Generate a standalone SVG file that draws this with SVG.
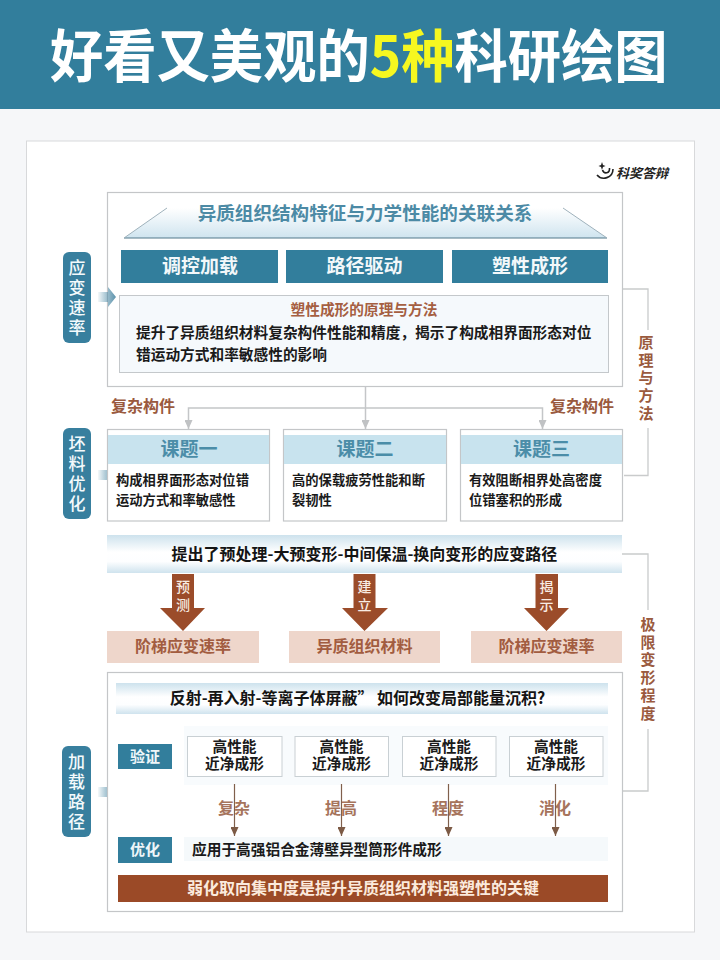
<svg xmlns="http://www.w3.org/2000/svg" width="720" height="960" viewBox="0 0 720 960">
<style>
text{font-family:"Noto Sans CJK SC","Noto Sans",sans-serif;text-anchor:middle;font-weight:700}
.l{text-anchor:start}
.v{writing-mode:vertical-rl}
.box{fill:#fff;stroke:#c4c6c8;stroke-width:1.2}
.side{fill:#387f9e}
.sidet{fill:#f4fafc;font-size:17px;font-weight:500;letter-spacing:3px}
.btn{fill:#327e9c}
.btnt{fill:#f3f8fa;font-size:19px}
.body{fill:#1a1a1a;font-size:14.7px}
.body13{fill:#1a1a1a;font-size:13.3px}
.kt{fill:#4b8da8;font-size:19px}
.hd{fill:#c8e3ee}
.brown{fill:#9a5a3e;font-size:16px}
.vert{fill:#9a5a3e;font-size:15px;letter-spacing:2.700px}
.ln{fill:none;stroke:#c9cbcc;stroke-width:1.3}
.ga{fill:none;stroke:#c4c6c8;stroke-width:1.5;marker-end:url(#ga)}
.ba{fill:none;stroke:#80604c;stroke-width:1.2;marker-end:url(#ba)}
.big{fill:#9b4c2a}
.bigt{fill:#f8ece3;font-size:14px;font-weight:500;letter-spacing:4px}
.pink{fill:#eed6cb}
.pinkt{fill:#a25c40;font-size:16px}
.bart{fill:#141414;font-size:16px}
.small{fill:#fff;stroke:#c9d0d4;stroke-width:1}
.lab{fill:#a6745c;font-size:16px}
</style>
<defs>
<linearGradient id="tr" x1="0" y1="0" x2="0" y2="1"><stop offset="0" stop-color="#fff"/><stop offset="1" stop-color="#cfe4ef"/></linearGradient>
<linearGradient id="bar" x1="0" y1="0" x2="0" y2="1"><stop offset="0" stop-color="#cde2ed"/><stop offset=".45" stop-color="#fff"/><stop offset=".7" stop-color="#fdfeff"/><stop offset="1" stop-color="#cfe3ee"/></linearGradient>
<linearGradient id="ar" x1="0" y1="0" x2="1" y2="0"><stop offset="0" stop-color="#387f9e" stop-opacity=".05"/><stop offset="1" stop-color="#5e93ac"/></linearGradient>
<marker id="ga" markerUnits="userSpaceOnUse" markerWidth="9" markerHeight="8" refX="9" refY="4" orient="auto" viewBox="0 0 9 8"><path d="M0 0L9 4L0 8Z" fill="#c0c2c4"/></marker>
<marker id="ba" markerUnits="userSpaceOnUse" markerWidth="9" markerHeight="8" refX="9" refY="4" orient="auto" viewBox="0 0 9 8"><path d="M0 0L9 4L0 8Z" fill="#7c5a45"/></marker>
</defs>
<rect width="720" height="960" fill="#f6f7f9"/>
<g id="banner"><rect width="720" height="109" fill="#327e9c"/>
<text transform="translate(50 76.500) scale(1 1.07)" class="l" font-size="53.300" fill="#fff" font-weight="900">好看又美观的<tspan fill="#f6f720">5种</tspan>科研绘图</text></g>
<rect id="card" x="26.500" y="141" width="668" height="791" fill="#fff" stroke="#d8d9db"/>
<g id="logo"><path d="M597 175C602 181 613 178 613 169M602.500 170C604 174.500 610 173.500 609.500 168" fill="none" stroke="#222" stroke-width="1.600"/><path d="M602 162l1 3 2.500 1-2.500 1-1 3-1-3-2.500-1 2.500-1z" fill="#222"/><text x="616" y="178" class="l" font-size="13" fill="#222" font-style="italic">科奖答辩</text></g>
<g id="connectors">
<path class="ln" d="M623 289H648V330"/><path class="ln" d="M648 428V475.500H624"/>
<path class="ln" d="M622 554H648V610"/><path class="ln" d="M648 729V791H619"/>
<path class="ga" d="M365.500 387V429"/><path class="ga" d="M365.500 408H188.500V429"/><path class="ga" d="M365.500 408H542.500V429"/>
</g>
<g id="top-panel"><rect class="box" x="107.500" y="192.500" width="515" height="194"/>
<path d="M124 238L167 208H563L607 238Z" fill="url(#tr)"/><path d="M124 238H607" stroke="#52788a" stroke-width="1"/><path d="M124 238L167 208M563 208L607 238" stroke="#9fb2bc" stroke-width="1"/>
<text x="365" y="220" font-size="18.600" fill="#4c8aa5">异质组织结构特征与力学性能的关联关系</text></g>
<g id="btn1"><rect class="btn" x="121" y="250" width="157" height="33"/><text class="btnt" x="200" y="273">调控加载</text></g>
<g id="btn2"><rect class="btn" x="286" y="250" width="157" height="33"/><text class="btnt" x="364.500" y="273">路径驱动</text></g>
<g id="btn3"><rect class="btn" x="452" y="250" width="156" height="33"/><text class="btnt" x="530" y="273">塑性成形</text></g>
<g id="principle"><rect x="119.500" y="295.500" width="489" height="77" fill="#f5f9fc" stroke="#c4c8cb"/>
<text x="364" y="315" font-size="14.700" fill="#a55f42">塑性成形的原理与方法</text>
<text class="body l" x="136" y="338">提升了异质组织材料复杂构件性能和精度，揭示了构成相界面形态对位</text>
<text class="body l" x="136" y="360">错运动方式和率敏感性的影响</text></g>
<g id="side1"><rect class="side" x="63" y="252" width="28" height="91" rx="6"/><path d="M98 292H108V287L116 297L108 307V302H98Z" fill="url(#ar)"/>
<text class="sidet v" x="77" y="299">应变速率</text></g>
<g id="side2"><rect class="side" x="63" y="428" width="28" height="91" rx="6"/><path d="M98 470H108V465L116 475L108 485V480H98Z" fill="url(#ar)"/>
<text class="sidet v" x="77" y="475">坯料优化</text></g>
<g id="side3"><rect class="side" x="62" y="746" width="29" height="91" rx="6"/><path d="M98 787H108V782L116 792L108 802V797H98Z" fill="url(#ar)"/>
<text class="sidet v" x="76.500" y="793">加载路径</text></g>
<g id="labels-complex"><text class="brown l" x="111" y="412">复杂构件</text><text class="brown l" x="550" y="412">复杂构件</text></g>
<text id="label-principle" class="vert v" x="646" y="379">原理与方法</text>
<text id="label-limit" class="vert v" x="648" y="670">极限变形程度</text>
<g id="topic1"><rect class="box" x="107.500" y="429.500" width="162" height="91.500"/><rect class="hd" x="108" y="435" width="161" height="29"/><text class="kt" x="189" y="456">课题一</text>
<text class="body13 l" x="116" y="485">构成相界面形态对位错</text><text class="body13 l" x="116" y="505">运动方式和率敏感性</text></g>
<g id="topic2"><rect class="box" x="283.500" y="429.500" width="163" height="91.500"/><rect class="hd" x="284" y="435" width="162" height="29"/><text class="kt" x="365" y="456">课题二</text>
<text class="body13 l" x="292" y="485">高的保载疲劳性能和断</text><text class="body13 l" x="292" y="505">裂韧性</text></g>
<g id="topic3"><rect class="box" x="460.500" y="429.500" width="162" height="91.500"/><rect class="hd" x="461" y="435" width="161" height="29"/><text class="kt" x="541.500" y="456">课题三</text>
<text class="body13 l" x="469" y="485">有效阻断相界处高密度</text><text class="body13 l" x="469" y="505">位错塞积的形成</text></g>
<g id="route"><rect x="107" y="535" width="515" height="38" fill="url(#bar)"/><text class="bart" x="364.500" y="560">提出了预处理-大预变形-中间保温-换向变形的应变路径</text></g>
<g id="arrow1"><path class="big" d="M172 574H194V608H205L183 631L160 608H172Z"/><text class="bigt v" x="183" y="598">预测</text></g>
<g id="arrow2"><path class="big" d="M353.500 574H375.500V608H388L364.500 631L342 608H353.500Z"/><text class="bigt v" x="364.500" y="598">建立</text></g>
<g id="arrow3"><path class="big" d="M535.500 574H558V608H569L546.500 631L524 608H535.500Z"/><text class="bigt v" x="546.500" y="598">揭示</text></g>
<g id="result1"><rect class="pink" x="107" y="631" width="152" height="32"/><text class="pinkt" x="183" y="652">阶梯应变速率</text></g>
<g id="result2"><rect class="pink" x="289" y="631" width="151" height="32"/><text class="pinkt" x="364.500" y="652">异质组织材料</text></g>
<g id="result3"><rect class="pink" x="471" y="631" width="151" height="32"/><text class="pinkt" x="546.500" y="652">阶梯应变速率</text></g>
<g id="bottom-panel"><rect class="box" x="107.500" y="672.500" width="515" height="239"/>
<rect x="116" y="683" width="492" height="31" fill="url(#bar)"/><text class="bart" x="357.500" y="704">反射-再入射-等离子体屏蔽” 如何改变局部能量沉积?</text>
<rect x="184" y="726" width="424" height="59" fill="#f8fbfd"/></g>
<g id="verify"><rect class="btn" x="118" y="744" width="54" height="25"/><text x="145" y="762" font-size="15" fill="#eef6f9">验证</text></g>
<g id="perf1"><rect class="small" x="187.500" y="736.500" width="94.500" height="40"/><text class="body"><tspan x="234.500" y="752">高性能</tspan><tspan x="234.500" y="769">近净成形</tspan></text></g>
<g id="perf2"><rect class="small" x="295" y="736.500" width="93.500" height="40"/><text class="body"><tspan x="341.500" y="752">高性能</tspan><tspan x="341.500" y="769">近净成形</tspan></text></g>
<g id="perf3"><rect class="small" x="402.500" y="736.500" width="93.500" height="40"/><text class="body"><tspan x="449" y="752">高性能</tspan><tspan x="449" y="769">近净成形</tspan></text></g>
<g id="perf4"><rect class="small" x="509.500" y="736.500" width="93.500" height="40"/><text class="body"><tspan x="556" y="752">高性能</tspan><tspan x="556" y="769">近净成形</tspan></text></g>
<g id="mid-labels"><text class="lab" x="234" y="814">复杂</text><text class="lab" x="341" y="814">提高</text><text class="lab" x="448" y="814">程度</text><text class="lab" x="555" y="814">消化</text></g>
<g id="down-arrows"><path class="ba" d="M234.500 784V836"/><path class="ba" d="M341.500 784V836"/><path class="ba" d="M448.500 784V836"/><path class="ba" d="M555.500 784V836"/></g>
<g id="optimize"><rect x="184" y="837" width="424" height="24" fill="#f5f9fb"/><rect class="btn" x="118" y="837" width="54" height="26"/><text x="145" y="855" font-size="15" fill="#eef6f9">优化</text>
<text class="body l" x="192" y="855">应用于高强铝合金薄壁异型筒形件成形</text></g>
<g id="key"><rect x="118" y="875" width="490" height="27" fill="#9b4a27"/><text x="363" y="894" font-size="16" fill="#fbeadd" font-weight="700">弱化取向集中度是提升异质组织材料强塑性的关键</text></g>
</svg>
